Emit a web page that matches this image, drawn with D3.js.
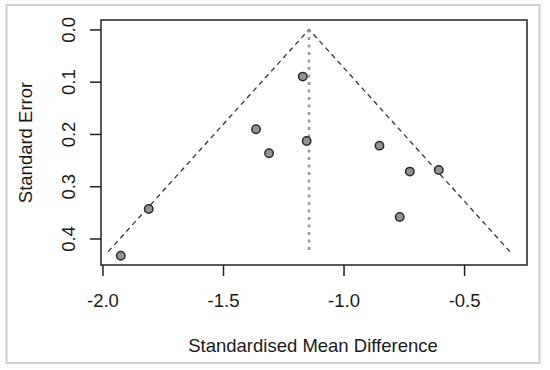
<!DOCTYPE html>
<html>
<head>
<meta charset="utf-8">
<script src="https://cdn.jsdelivr.net/npm/d3@7"></script>
<style>
  html, body { margin: 0; padding: 0; background: #fff; }
  svg { display: block; font-family: "Liberation Sans", Arial, sans-serif; }
</style>
</head>
<body>
<svg id="chart" width="550" height="370"></svg>
<script>
// ---- data ----
const studySMD = [-1.169, -1.363, -1.309, -1.153, -0.851, -0.725, -0.605, -0.767, -1.808, -1.924];
const studySE  = [0.0903, 0.191, 0.237, 0.2134, 0.2224, 0.272, 0.269, 0.359, 0.3435, 0.433];
const pooledEstimate = -1.143;
const funnelMaxSE = 0.425;
const xTicks = [-2.0, -1.5, -1.0, -0.5];
const yTicks = [0.0, 0.1, 0.2, 0.3, 0.4];
const xLabel = "Standardised Mean Difference";
const yLabel = "Standard Error";

// ---- layout ----
const svg = d3.select("#chart");
const box = { left: 101, right: 527, top: 20, bottom: 265 };
const x = d3.scaleLinear().domain([-2.006, -0.239]).range([box.left, box.right]);
const y = d3.scaleLinear().domain([-0.018, 0.4507]).range([box.top, box.bottom]);
const fmt = d => d.toFixed(1);

// outer frame
svg.append("rect").attr("x", 6.5).attr("y", 5).attr("width", 533).attr("height", 358)
  .attr("fill", "#fff").attr("stroke", "#cfcfcf").attr("stroke-width", 2);

// funnel lines
const z = 1.96;
const funnel = [
  [pooledEstimate - z * funnelMaxSE, funnelMaxSE],
  [pooledEstimate, 0],
  [pooledEstimate + z * funnelMaxSE, funnelMaxSE]
];
svg.append("path")
  .attr("d", d3.line().x(d => x(d[0])).y(d => y(d[1]))(funnel))
  .attr("fill", "none").attr("stroke", "#333").attr("stroke-width", 1.3)
  .attr("stroke-dasharray", "5,4");

// vertical reference line
svg.append("line")
  .attr("x1", x(pooledEstimate)).attr("x2", x(pooledEstimate))
  .attr("y1", y(0)).attr("y2", y(funnelMaxSE))
  .attr("stroke", "#999").attr("stroke-width", 2.6)
  .attr("stroke-dasharray", "3,4.5");

// points
svg.append("g").selectAll("circle")
  .data(studySMD.map((v, i) => [v, studySE[i]]))
  .join("circle")
  .attr("cx", d => x(d[0])).attr("cy", d => y(d[1])).attr("r", 4.2)
  .attr("fill", "#939393").attr("stroke", "#2a2a2a").attr("stroke-width", 1.5);

// plot box
svg.append("rect").attr("x", box.left).attr("y", box.top)
  .attr("width", box.right - box.left).attr("height", box.bottom - box.top)
  .attr("fill", "none").attr("stroke", "#222").attr("stroke-width", 1.5);

// x axis
const xAxis = d3.axisBottom(x).tickValues(xTicks).tickFormat(fmt)
  .tickSize(11).tickSizeOuter(0);
const gx = svg.append("g").attr("transform", `translate(0,${box.bottom})`).call(xAxis);
gx.select(".domain").remove();
gx.selectAll(".tick line").attr("stroke", "#222").attr("stroke-width", 1.5);
gx.selectAll(".tick text").attr("font-size", "18.5px").attr("fill", "#1a1a1a")
  .attr("dy", null).attr("y", 42);

// y axis (rotated labels)
const yAxis = d3.axisLeft(y).tickValues(yTicks).tickFormat(fmt)
  .tickSize(11).tickSizeOuter(0);
const gy = svg.append("g").attr("transform", `translate(${box.left},0)`).call(yAxis);
gy.select(".domain").remove();
gy.selectAll(".tick line").attr("stroke", "#222").attr("stroke-width", 1.5);
gy.selectAll(".tick text").attr("font-size", "18.5px").attr("fill", "#1a1a1a")
  .attr("x", null).attr("dy", null)
  .attr("text-anchor", "middle")
  .attr("transform", "translate(-26,0) rotate(-90)");

// axis titles
svg.append("text").attr("x", (box.left + box.right) / 2 - 1).attr("y", 351.5)
  .attr("text-anchor", "middle").attr("font-size", "18.5px").attr("fill", "#1a1a1a")
  .text(xLabel);
svg.append("text").attr("transform", `translate(31.5,${(box.top + box.bottom) / 2}) rotate(-90)`)
  .attr("text-anchor", "middle").attr("font-size", "18.5px").attr("fill", "#1a1a1a")
  .text(yLabel);
</script>
</body>
</html>
